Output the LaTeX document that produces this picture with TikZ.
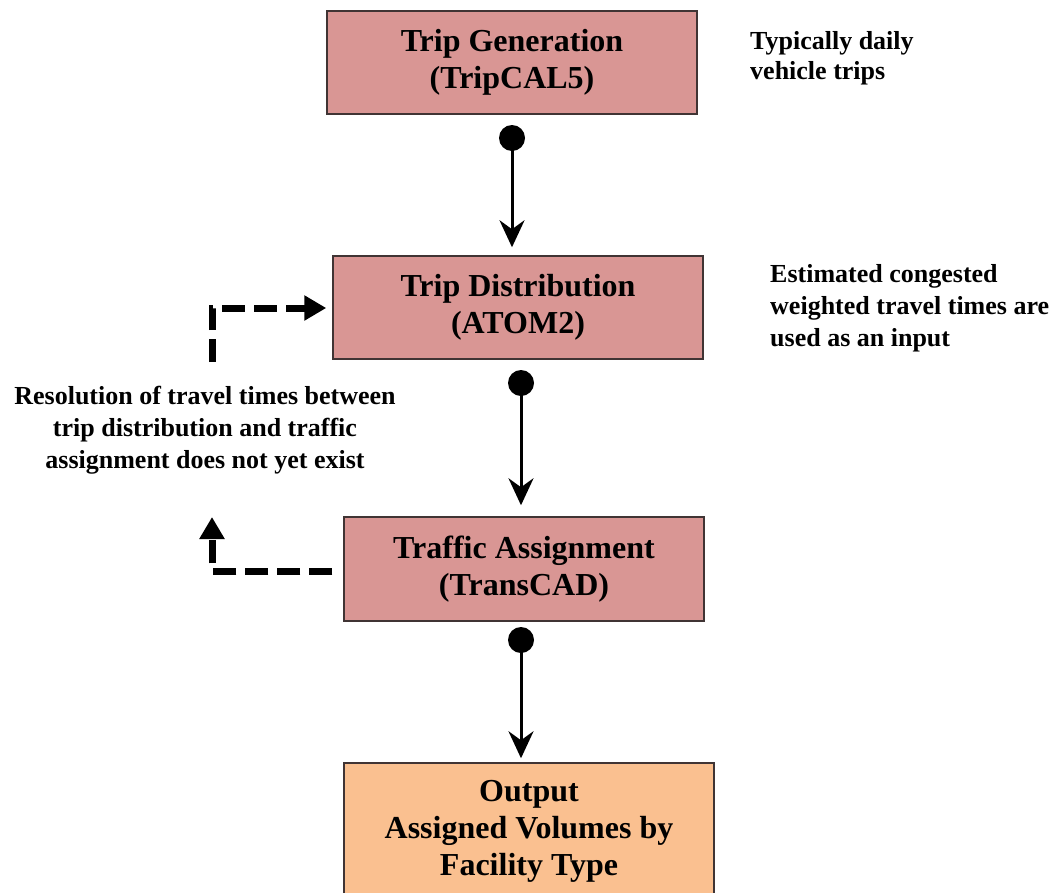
\documentclass[tikz,border=0pt]{standalone}
\usepackage{fontspec}
\setmainfont{Liberation Serif}
\usetikzlibrary{arrows.meta}
\definecolor{boxpink}{HTML}{D99694}
\definecolor{boxorange}{HTML}{FAC090}
\definecolor{boxline}{HTML}{403434}
\begin{document}
\begin{tikzpicture}[x=1pt,y=-1pt,
  stage/.style={draw=boxline, line width=1.5pt, fill=boxpink, minimum width=370pt, minimum height=103pt,
    align=center, inner sep=0pt, font=\fontsize{32}{37}\selectfont\bfseries},
  note/.style={inner sep=0pt, font=\fontsize{26}{32}\selectfont\bfseries},
  flow/.style={line width=3pt, -{Stealth[length=27pt,width=25pt,inset=9pt]}},
  dotnode/.style={circle, fill=black, minimum size=26pt, inner sep=0pt},
  feedback/.style={line width=7pt, dash pattern=on 23pt off 9pt, -{Triangle[length=22pt,width=24pt]}}
]
\useasboundingbox (0,0) rectangle (1062,892);
\clip (0,0) rectangle (1062,892);

\node[stage] (gen) at (512,62.5) {Trip Generation\\(TripCAL5)};
\node[stage] (dist) at (518,307.5) {Trip Distribution\\(ATOM2)};
\node[stage, minimum width=360pt, minimum height=104pt] (assign) at (524,569) {Traffic Assignment\\(TransCAD)};
\node[stage, fill=boxorange, minimum height=136pt] (out) at (529,831) {Output\\Assigned Volumes by\\Facility Type};

\node[dotnode] (d1) at (512,138) {};
\node[dotnode] (d2) at (521,383) {};
\node[dotnode] (d3) at (521,640) {};

\draw[flow, shorten >=8pt] (d1.center) -- (d1.center |- dist.north);
\draw[flow, shorten >=11pt] (d2.center) -- (d2.center |- assign.north);
\draw[flow, shorten >=4pt] (d3.center) -- (d3.center |- out.north);

\coordinate (fbbot) at (212,362);
\coordinate (fbtop) at (212,517);
\draw[feedback] (fbbot) |- ([shift={(-6,0.5)}]dist.west);
\draw[feedback] ([shift={(-11,2)}]assign.west) -| (fbtop);

\node[note, anchor=west, align=left, font=\fontsize{26}{30}\selectfont\bfseries] (n1) at (750,58) {Typically daily\\vehicle trips};
\node[note, anchor=west, align=left] (n2) at (770,308) {Estimated congested\\weighted travel times are\\used as an input};
\node[note, align=center] (n3) at (205,430) {Resolution of travel times between\\trip distribution and traffic\\assignment does not yet exist};
\end{tikzpicture}
\end{document}
